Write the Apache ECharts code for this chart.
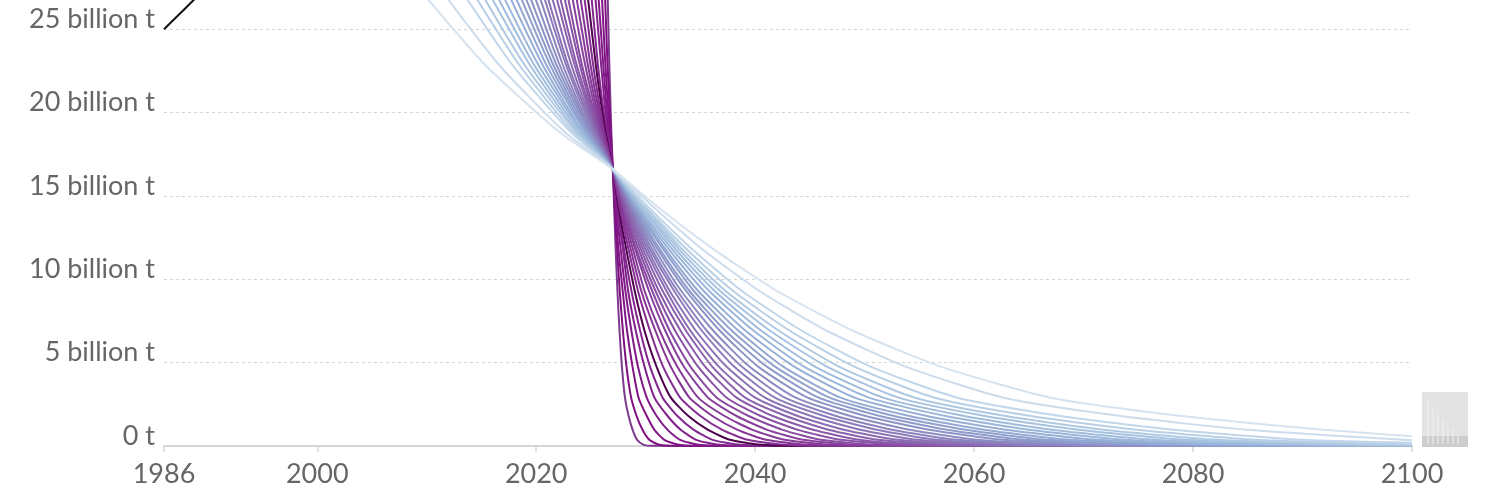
<!DOCTYPE html>
<html>
<head>
<meta charset="utf-8">
<script src="https://cdn.jsdelivr.net/npm/echarts@6/dist/echarts.min.js"></script>
<style>
html,body{margin:0;padding:0;background:#fff;overflow:hidden;width:1500px;height:500px;}
#chart{position:absolute;left:0;top:-54px;width:1500px;height:554px;}
</style>
</head>
<body>
<div id="chart"></div>
<script>
// ---- data ----
const xTicks = [1986, 2000, 2020, 2040, 2060, 2080, 2100];
const yTicks = [0, 5, 10, 15, 20, 25];
const yTickLabels = ['0 t', '5 billion t', '10 billion t', '15 billion t', '20 billion t', '25 billion t'];

// historical emissions (billion t), only the start is inside the visible window
const historical = [[1986,25.0],[1987,25.65],[1988,26.3],[1989,26.95],[1990,27.4],[1992,27.7],[1995,28.4],[2000,30.5],[2005,33.6],[2010,36.0],[2015,37.8],[2020,38.5],[2023,39.5]];

// mitigation pathways, slowest (lightest) first, fastest (darkest) last: [year, billion t]
const pathways = [
 [[2004,31.6],[2015,23.1],[2022,18.9],[2027,16.6],[2031,14.4],[2036,11.9],[2042,9.3],[2049,6.9],[2057,4.75],[2067,2.9],[2079,1.8],[2092,0.97],[2100,0.58]],
 [[2006.5,31.6],[2016.3,23.1],[2022.5,18.9],[2027,16.6],[2030.6,14.4],[2035.0,11.9],[2040.4,9.3],[2046.6,6.9],[2053.8,4.75],[2062.7,2.9],[2073.4,1.8],[2085.0,0.97],[2100,0.34]],
 [[2008.9,31.6],[2017.55,23.1],[2023.06,18.9],[2027,16.6],[2030.15,14.4],[2034.1,11.9],[2038.8,9.3],[2044.3,6.9],[2050.6,4.75],[2058.5,2.9],[2067.9,1.8],[2078.2,0.97],[2090,0.37],[2100,0.19]],
 [[2010.1,31.6],[2018.2,23.1],[2023.3,18.9],[2027,16.6],[2029.9,14.4],[2033.6,11.9],[2038.0,9.3],[2043.2,6.9],[2049.1,4.75],[2056.4,2.9],[2065.2,1.8],[2074.8,0.97],[2085.8,0.37],[2100,0.09]],
 [[2011.1,31.6],[2018.7,23.1],[2023.55,18.9],[2027,16.6],[2029.8,14.4],[2033.2,11.9],[2037.3,9.3],[2042.2,6.9],[2047.7,4.75],[2054.6,2.9],[2062.9,1.8],[2071.8,0.97],[2082.2,0.37],[2096,0.087],[2100,0.07]],
 [[2012.0,31.6],[2019.2,23.1],[2023.7,18.9],[2027,16.6],[2029.6,14.4],[2032.9,11.9],[2036.8,9.3],[2041.4,6.9],[2046.6,4.75],[2053.1,2.9],[2061.0,1.8],[2069.5,0.97],[2079.3,0.37],[2092.4,0.087],[2100,0.05]],
 [[2012.8,31.6],[2019.6,23.1],[2023.9,18.9],[2027,16.6],[2029.5,14.4],[2032.6,11.9],[2036.3,9.3],[2040.6,6.9],[2045.5,4.75],[2051.7,2.9],[2059.1,1.8],[2067.1,0.97],[2076.4,0.37],[2088.7,0.087],[2100,0.03]],
 [[2013.55,31.6],[2020.0,23.1],[2024.1,18.9],[2027,16.6],[2029.3,14.4],[2032.3,11.9],[2035.8,9.3],[2039.9,6.9],[2044.5,4.75],[2050.4,2.9],[2057.4,1.8],[2065.0,0.97],[2073.8,0.37],[2085.5,0.087],[2100,0.01]],
 [[2014.3,31.6],[2020.4,23.1],[2024.2,18.9],[2027,16.6],[2029.2,14.4],[2032.0,11.9],[2035.3,9.3],[2039.15,6.9],[2043.6,4.75],[2049.1,2.9],[2055.7,1.8],[2062.9,0.97],[2071.2,0.37],[2082.2,0.087],[2096.1,0.01],[2100,0]],
 [[2015.0,31.6],[2020.75,23.1],[2024.4,18.9],[2027,16.6],[2029.1,14.4],[2031.7,11.9],[2034.8,9.3],[2038.5,6.9],[2042.6,4.75],[2047.8,2.9],[2054.1,1.8],[2060.9,0.97],[2068.7,0.37],[2079.1,0.087],[2092.1,0.01],[2100,0]],
 [[2015.6,31.6],[2021.1,23.1],[2024.5,18.9],[2027,16.6],[2029.0,14.4],[2031.5,11.9],[2034.4,9.3],[2037.9,6.9],[2041.85,4.75],[2046.8,2.9],[2052.7,1.8],[2059.2,0.97],[2066.6,0.37],[2076.5,0.087],[2088.9,0.01],[2100,0]],
 [[2016.2,31.6],[2021.4,23.1],[2024.65,18.9],[2027,16.6],[2028.9,14.4],[2031.2,11.9],[2034.0,9.3],[2037.3,6.9],[2041.1,4.75],[2045.8,2.9],[2051.4,1.8],[2057.5,0.97],[2064.6,0.37],[2073.9,0.087],[2085.7,0.01],[2100,0]],
 [[2016.8,31.6],[2021.7,23.1],[2024.8,18.9],[2027,16.6],[2028.8,14.4],[2031.0,11.9],[2033.7,9.3],[2036.8,6.9],[2040.3,4.75],[2044.8,2.9],[2050.1,1.8],[2055.9,0.97],[2062.6,0.37],[2071.4,0.087],[2082.6,0.01],[2100,0]],
 [[2017.4,31.6],[2022.0,23.1],[2024.9,18.9],[2027,16.6],[2028.7,14.4],[2030.75,11.9],[2033.25,9.3],[2036.2,6.9],[2039.5,4.75],[2043.7,2.9],[2048.7,1.8],[2054.1,0.97],[2060.3,0.37],[2068.7,0.087],[2079.1,0.01],[2100,0]],
 [[2018.0,31.6],[2022.3,23.1],[2025.0,18.9],[2027,16.6],[2028.6,14.4],[2030.5,11.9],[2032.9,9.3],[2035.6,6.9],[2038.8,4.75],[2042.7,2.9],[2047.4,1.8],[2052.5,0.97],[2058.4,0.37],[2066.2,0.087],[2076.0,0.01],[2100,0]],
 [[2018.5,31.6],[2022.6,23.1],[2025.15,18.9],[2027,16.6],[2028.5,14.4],[2030.3,11.9],[2032.6,9.3],[2035.15,6.9],[2038.1,4.75],[2041.8,2.9],[2046.3,1.8],[2051.1,0.97],[2056.6,0.37],[2064.0,0.087],[2073.3,0.01],[2100,0]],
 [[2019.0,31.6],[2022.8,23.1],[2025.3,18.9],[2027,16.6],[2028.4,14.4],[2030.1,11.9],[2032.2,9.3],[2034.6,6.9],[2037.4,4.75],[2040.9,2.9],[2045.1,1.8],[2049.6,0.97],[2054.8,0.37],[2061.7,0.087],[2070.4,0.01],[2100,0]],
 [[2019.5,31.6],[2023.1,23.1],[2025.4,18.9],[2027,16.6],[2028.3,14.4],[2029.9,11.9],[2031.9,9.3],[2034.1,6.9],[2036.7,4.75],[2040.0,2.9],[2043.9,1.8],[2048.1,0.97],[2053.0,0.37],[2059.5,0.087],[2067.6,0.01],[2100,0]],
 [[2020.0,31.6],[2023.4,23.1],[2025.5,18.9],[2027,16.6],[2028.2,14.4],[2029.7,11.9],[2031.55,9.3],[2033.7,6.9],[2036.1,4.75],[2039.1,2.9],[2042.8,1.8],[2046.7,0.97],[2051.2,0.37],[2057.3,0.087],[2064.9,0.01],[2100,0]],
 [[2020.5,31.6],[2023.6,23.1],[2025.6,18.9],[2027,16.6],[2028.1,14.4],[2029.5,11.9],[2031.2,9.3],[2033.2,6.9],[2035.45,4.75],[2038.3,2.9],[2041.6,1.8],[2045.3,0.97],[2049.5,0.37],[2055.2,0.087],[2062.2,0.01],[2100,0]],
 [[2021.0,31.6],[2023.9,23.1],[2025.7,18.9],[2027,16.6],[2028.0,14.4],[2029.3,11.9],[2030.9,9.3],[2032.7,6.9],[2034.8,4.75],[2037.4,2.9],[2040.5,1.8],[2043.9,0.97],[2047.8,0.37],[2053.0,0.087],[2059.5,0.01],[2100,0]],
 [[2021.5,31.6],[2024.1,23.1],[2025.8,18.9],[2027,16.6],[2027.95,14.4],[2029.1,11.9],[2030.6,9.3],[2032.2,6.9],[2034.1,4.75],[2036.5,2.9],[2039.4,1.8],[2042.5,0.97],[2046.0,0.37],[2050.8,0.087],[2056.8,0.01],[2100,0]],
 [[2022.0,31.6],[2024.4,23.1],[2025.9,18.9],[2027,16.6],[2027.9,14.4],[2029.0,11.9],[2030.3,9.3],[2031.8,6.9],[2033.5,4.75],[2035.7,2.9],[2038.3,1.8],[2041.1,0.97],[2044.4,0.37],[2048.7,0.087],[2054.2,0.01],[2100,0]],
 [[2022.5,31.6],[2024.65,23.1],[2026.0,18.9],[2027,16.6],[2027.8,14.4],[2028.8,11.9],[2029.9,9.3],[2031.3,6.9],[2032.9,4.75],[2034.8,2.9],[2037.2,1.8],[2039.75,0.97],[2042.7,0.37],[2046.6,0.087],[2051.5,0.01],[2100,0]],
 [[2023.0,31.6],[2024.9,23.1],[2026.1,18.9],[2027,16.6],[2027.7,14.4],[2028.6,11.9],[2029.6,9.3],[2030.9,6.9],[2032.3,4.75],[2034.0,2.9],[2036.1,1.8],[2038.4,0.97],[2041.0,0.37],[2044.5,0.087],[2048.9,0.01],[2100,0]],
 [[2023.5,31.6],[2025.15,23.1],[2026.2,18.9],[2027,16.6],[2027.6,14.4],[2028.4,11.9],[2029.3,9.3],[2030.4,6.9],[2031.6,4.75],[2033.15,2.9],[2035.0,1.8],[2037.0,0.97],[2039.3,0.37],[2042.4,0.087],[2046.2,0.01],[2100,0]],
 [[2023.9,31.6],[2025.4,23.1],[2026.3,18.9],[2027,16.6],[2027.5,14.4],[2028.2,11.9],[2029.0,9.3],[2029.9,6.9],[2031.0,4.75],[2032.3,2.9],[2033.9,1.8],[2035.7,0.97],[2037.7,0.37],[2040.3,0.087],[2043.7,0.01],[2100,0]],
 [[2024.4,31.6],[2025.6,23.1],[2026.4,18.9],[2027,16.6],[2027.45,14.4],[2028.0,11.9],[2028.7,9.3],[2029.5,6.9],[2030.4,4.75],[2031.55,2.9],[2032.9,1.8],[2034.4,0.97],[2036.1,0.37],[2038.4,0.087],[2041.2,0.01],[2100,0]],
 [[2024.8,31.6],[2025.9,23.1],[2026.5,18.9],[2027,16.6],[2027.4,14.4],[2027.9,11.9],[2028.4,9.3],[2029.1,6.9],[2029.9,4.75],[2030.8,2.9],[2032.0,1.8],[2033.2,0.97],[2034.6,0.37],[2036.5,0.087],[2038.9,0.01],[2100,0]],
 [[2025.2,31.6],[2026.1,23.1],[2026.6,18.9],[2027,16.6],[2027.3,14.4],[2027.7,11.9],[2028.15,9.3],[2028.7,6.9],[2029.3,4.75],[2030.1,2.9],[2031.0,1.8],[2032.0,0.97],[2033.15,0.37],[2034.7,0.087],[2036.6,0.01],[2100,0]],
 [[2025.65,31.6],[2026.3,23.1],[2026.7,18.9],[2027,16.6],[2027.24,14.4],[2027.5,11.9],[2027.9,9.3],[2028.3,6.9],[2028.8,4.75],[2029.35,2.9],[2030.1,1.8],[2030.8,0.97],[2031.7,0.37],[2032.9,0.087],[2034.35,0.01],[2100,0]],
 [[2026.04,31.6],[2026.5,23.1],[2026.8,18.9],[2027,16.6],[2027.17,14.4],[2027.38,11.9],[2027.63,9.3],[2027.92,6.9],[2028.25,4.75],[2028.67,2.9],[2029.17,1.8],[2029.71,0.97],[2030.33,0.37],[2031.17,0.087],[2032.2,0.01],[2100,0]],
 [[2026.36,31.6],[2026.67,23.1],[2026.86,18.9],[2027,16.6],[2027.11,14.4],[2027.25,11.9],[2027.42,9.3],[2027.61,6.9],[2027.83,4.75],[2028.11,2.9],[2028.44,1.8],[2028.81,0.97],[2029.22,0.37],[2029.78,0.087],[2030.5,0.01],[2100,0]]
];

const pathwayColors = [
 '#d6e3ef','#cddcec','#c2d6ea','#b8cfe6','#afc9e3','#a7c2e0','#a0bcdd','#9ab6da','#96afd6','#93a8d2',
 '#91a1ce','#8e9aca','#8c93c6','#8c8bc2','#8c83be','#8c7bba','#8c73b6','#8b6bb2','#8b62ad','#8a5aa9',
 '#8a52a5','#894aa1','#88429d','#873b99','#863495','#852d92','#4d004b','#832690','#82208c','#811a88',
 '#801485','#7f1082','#7d3a8e'
];

// ---- chart ----
const chart = echarts.init(document.getElementById('chart'), null, {renderer: 'canvas'});
const FONT = 'Lato';
const series = [];
for (let i = pathways.length - 1; i >= 0; i--) {
  series.push({
    type: 'line', data: pathways[i], showSymbol: false, smooth: 0.2,
    lineStyle: {width: 2, color: pathwayColors[i]}, silent: true, animation: false
  });
}
series.push({
  type: 'line', data: historical, showSymbol: false,
  lineStyle: {width: 2, color: '#111'}, silent: true, animation: false
});

const OFF = 54; // canvas is shifted up by this many pixels
chart.setOption({
  animation: false,
  grid: {left: 164, right: 88, top: 0, bottom: 54, containLabel: false},
  xAxis: {
    type: 'value', min: 1986, max: 2100,
    axisLine: {show: true, lineStyle: {color: '#d6d6d6', width: 2}},
    axisTick: {show: true, customValues: xTicks, length: 6, lineStyle: {color: '#d6d6d6', width: 1.5}},
    axisLabel: {customValues: xTicks, fontFamily: FONT, fontSize: 27, color: '#666', margin: 15,
      formatter: function (v) { return String(v); }},
    splitLine: {show: false}
  },
  yAxis: {
    type: 'value', min: 0, max: 30, interval: 5,
    axisLine: {show: false}, axisTick: {show: false},
    axisLabel: {
      fontFamily: FONT, fontSize: 27, color: '#666', margin: 9,
      verticalAlign: 'bottom', lineHeight: 20,
      formatter: function (v) { const k = yTicks.indexOf(v); return k >= 0 ? yTickLabels[k] : ''; }
    },
    splitLine: {show: true, lineStyle: {type: [3, 3], color: '#d4d4d4', width: 1}}
  },
  graphic: [
    {type: 'rect', shape: {x: 1422, y: 392 + OFF, width: 46, height: 55}, style: {fill: '#e3e3e3'}, silent: true},
    {type: 'rect', shape: {x: 1422, y: 436 + OFF, width: 46, height: 11}, style: {fill: '#cdcdcd'}, silent: true},
    {type: 'line', shape: {x1: 1428, y1: 400 + OFF, x2: 1428, y2: 444 + OFF}, style: {stroke: '#f2f2f2', lineWidth: 1}, silent: true},
    {type: 'line', shape: {x1: 1433, y1: 408 + OFF, x2: 1433, y2: 444 + OFF}, style: {stroke: '#f2f2f2', lineWidth: 1}, silent: true},
    {type: 'line', shape: {x1: 1438, y1: 414 + OFF, x2: 1438, y2: 444 + OFF}, style: {stroke: '#f2f2f2', lineWidth: 1}, silent: true},
    {type: 'line', shape: {x1: 1443, y1: 420 + OFF, x2: 1443, y2: 444 + OFF}, style: {stroke: '#f2f2f2', lineWidth: 1}, silent: true},
    {type: 'line', shape: {x1: 1448, y1: 426 + OFF, x2: 1448, y2: 444 + OFF}, style: {stroke: '#f2f2f2', lineWidth: 1}, silent: true},
    {type: 'line', shape: {x1: 1453, y1: 430 + OFF, x2: 1453, y2: 444 + OFF}, style: {stroke: '#f2f2f2', lineWidth: 1}, silent: true},
    {type: 'line', shape: {x1: 1458, y1: 434 + OFF, x2: 1458, y2: 444 + OFF}, style: {stroke: '#f2f2f2', lineWidth: 1}, silent: true}
  ],
  series: series
});
</script>
</body>
</html>
